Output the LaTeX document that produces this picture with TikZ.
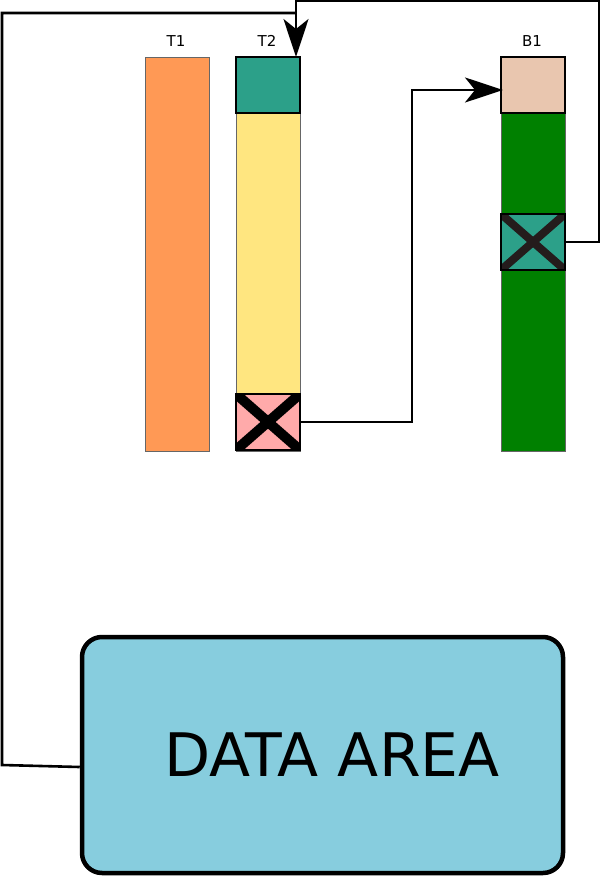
\documentclass[tikz,border=0pt]{standalone}
\usepackage{fontspec}
\setmainfont{DejaVu Sans}
\usetikzlibrary{arrows.meta,calc}
\definecolor{corange}{HTML}{FF9955}
\definecolor{cteal}{HTML}{2CA089}
\definecolor{cyellow}{HTML}{FFE680}
\definecolor{cpink}{HTML}{FFAAAA}
\definecolor{cpeach}{HTML}{E9C6AF}
\definecolor{cgreen}{HTML}{008000}
\definecolor{cdark}{HTML}{241C1C}
\definecolor{cdata}{HTML}{87CDDE}
\begin{document}
\begin{tikzpicture}[x=1pt,y=-1pt,
  box/.style={rectangle,inner sep=0pt,outer sep=0pt,minimum width=64pt},
  col/.style={box,draw=black!60,line width=0.6pt},
  cell/.style={box,draw=black,line width=1.5pt,minimum height=56pt},
  lbl/.style={font=\fontsize{15}{17}\selectfont},
  conn/.style={draw=black,line width=2.6pt},
  tip/.style={-{Stealth[length=38pt,width=25pt,inset=10pt]}}]
\useasboundingbox (0,0) rectangle (600,877);
% T1
\node[col,fill=corange,minimum height=394pt] (t1) at (177,254) {};
\node[lbl] (l1) at (176,41) {T1};
% T2
\node[col,fill=cyellow,minimum height=338pt] (t2col) at (268,282) {};
\node[cell,fill=cteal] (t2top) at (268,85) {};
\node[cell,fill=cpink] (t2x) at (268,422) {};
\begin{scope}
  \clip (t2x.north west) rectangle (t2x.south east);
  \draw[line width=10pt,black] (t2x.north west) -- (t2x.south east);
  \draw[line width=10pt,black] (t2x.north east) -- (t2x.south west);
\end{scope}
\node[lbl] (l2) at (267,41) {T2};
% B1
\node[col,fill=cgreen,minimum height=338pt] (b1col) at (533,282) {};
\node[cell,fill=cpeach] (b1top) at (533,85) {};
\node[cell,fill=cteal] (b1x) at (533,242) {};
\begin{scope}
  \clip (b1x.north west) rectangle (b1x.south east);
  \draw[line width=8pt,cdark] (b1x.north west) -- (b1x.south east);
  \draw[line width=8pt,cdark] (b1x.north east) -- (b1x.south west);
\end{scope}
\node[draw=black,line width=1.5pt,box,minimum height=56pt] (b1xb) at (533,242) {};
\node[lbl] (l3) at (532,41) {B1};
% data area
\node[rectangle,draw=black,line width=4.5pt,fill=cdata,rounded corners=20pt,
  minimum width=481pt,minimum height=236pt,inner sep=0pt] (data) at (322.5,755) {};
\node[font=\fontsize{60}{63}\selectfont] (dtext) at (332,755) {DATA AREA};
% connectors
\coordinate (b1in) at ($(b1top.west)+(2,5)$);
\draw[conn,tip] (t2x.east) -- ++(112,0) |- (b1in);
\coordinate (t2in) at ($(t2top.north east)+(-4,0)$);
\draw[conn,tip] (b1x.east) -- ++(34,0) |- (296,1) -- (t2in);
\coordinate (dout) at ($(data.west)+(0,12)$);
\draw[conn] (dout) -- (2,765) |- (296,13);
\end{tikzpicture}
\end{document}
